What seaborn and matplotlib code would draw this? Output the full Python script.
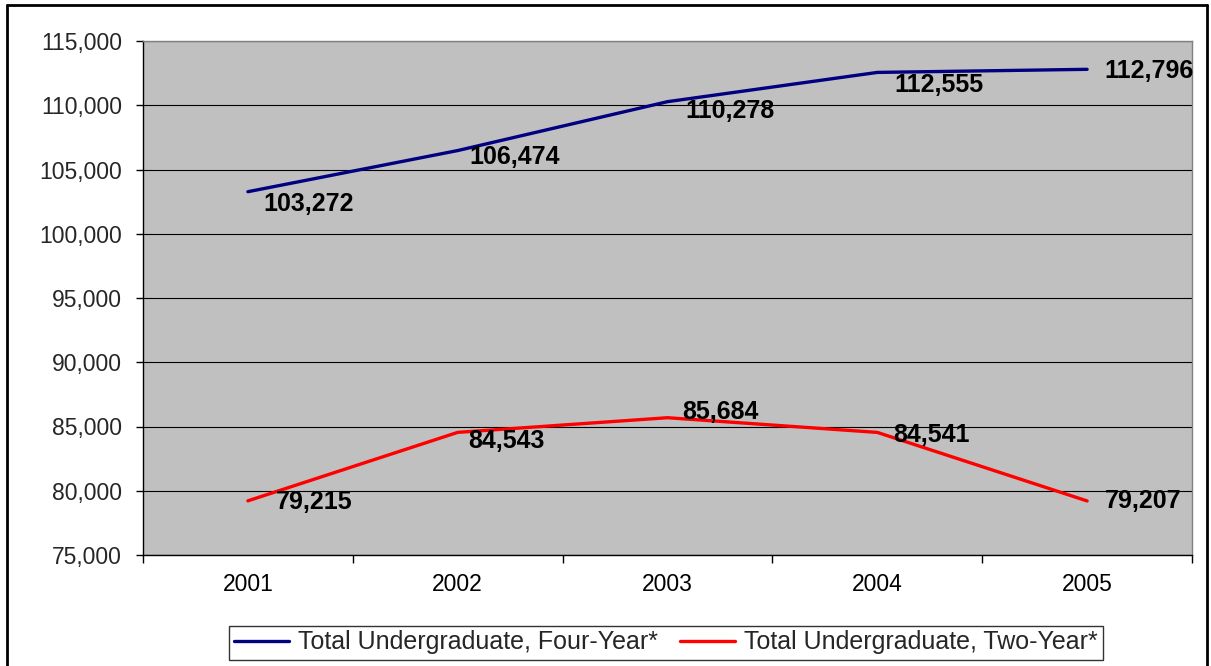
import matplotlib
matplotlib.use("Agg")
import matplotlib.pyplot as plt
from matplotlib.lines import Line2D
import seaborn as sns
import pandas as pd
import numpy as np

years = [2001, 2002, 2003, 2004, 2005]
four_year = [103272, 106474, 110278, 112555, 112796]
two_year = [79215, 84543, 85684, 84541, 79207]
series_names = ["Total Undergraduate, Four-Year*", "Total Undergraduate, Two-Year*"]
y_ticks = [75000, 80000, 85000, 90000, 95000, 100000, 105000, 110000, 115000]

df = pd.DataFrame({
    "year": years * 2,
    "value": four_year + two_year,
    "series": [series_names[0]] * len(years) + [series_names[1]] * len(years),
})

sns.set_theme(style="white")
plt.rcParams["font.family"] = ["Liberation Sans", "DejaVu Sans"]

fig = plt.figure(figsize=(12.11, 6.66), dpi=100)
ax = fig.add_axes([143 / 1211, 1 - 555 / 666, (1192 - 143) / 1211, (555 - 41) / 666])
ax.set_facecolor("#C0C0C0")

sns.lineplot(data=df, x="year", y="value", hue="series",
             palette={series_names[0]: "#000080", series_names[1]: "#FF0000"},
             linewidth=2.4, ax=ax, legend=True)

ax.set_xlim(years[0] - 0.5, years[-1] + 0.5)
ax.set_ylim(y_ticks[0], y_ticks[-1])
ax.set_yticks(y_ticks)
ax.set_yticklabels([f"{v:,}" for v in y_ticks], fontsize=16.5)
ax.set_xticks(years)
ax.set_xticklabels([str(y) for y in years], fontsize=16.5)
ax.set_xticks([y - 0.5 for y in years] + [years[-1] + 0.5], minor=True)
ax.tick_params(axis="x", which="major", length=0, pad=13, colors="black")
ax.tick_params(axis="x", which="minor", length=6, width=1, direction="out", color="black", bottom=True)
ax.tick_params(axis="y", which="major", length=5, width=1, direction="out", color="black", left=True, pad=10)
ax.set_xlabel("")
ax.set_ylabel("")

ax.grid(axis="y", color="black", linewidth=0.8)
ax.grid(axis="x", visible=False)
ax.set_axisbelow(True)
for side in ["left", "bottom"]:
    ax.spines[side].set_color("black")
    ax.spines[side].set_linewidth(1.0)
for side in ["top", "right"]:
    ax.spines[side].set_color("#808080")
    ax.spines[side].set_linewidth(1.0)
for s in ax.spines.values():
    s.set_visible(True)

# data labels (offsets in points)
four_off = [(11, -9), (8.5, -4.5), (13, -7), (12, -9), (12.5, -1)]
two_off = [(20, -1), (7.5, -6), (10.5, 4), (11.5, -2), (12.5, 0)]
for vals, offs in [(four_year, four_off), (two_year, two_off)]:
    for x, v, (dx, dy) in zip(years, vals, offs):
        ax.annotate(f"{v:,}", (x, v), xytext=(dx, dy), textcoords="offset points",
                    ha="left", va="center", fontsize=18, fontweight="bold", color="black")

handles, labels = ax.get_legend_handles_labels()
ax.legend_.remove()
leg = fig.legend(handles, labels, loc="center", bbox_to_anchor=(666 / 1211, 1 - 642.5 / 666),
                 ncol=2, fontsize=18, frameon=True, fancybox=False, handlelength=2.2,
                 handletextpad=0.35, columnspacing=0.9, borderpad=0.2, borderaxespad=0)
leg.get_frame().set_edgecolor("black")
leg.get_frame().set_linewidth(1.0)
leg.get_frame().set_facecolor("white")
for l in leg.get_lines():
    l.set_linewidth(2.4)

# outer border
border_kw = dict(color="black", linewidth=2.0, transform=fig.transFigure)
fig.add_artist(Line2D([7 / 1211, 7 / 1211], [0, 1 - 5 / 666], **border_kw))
fig.add_artist(Line2D([7 / 1211, 1207 / 1211], [1 - 5 / 666, 1 - 5 / 666], **border_kw))
fig.add_artist(Line2D([1207 / 1211, 1207 / 1211], [0, 1 - 5 / 666], **border_kw))

fig.savefig("out.png", dpi=100, facecolor="white")
